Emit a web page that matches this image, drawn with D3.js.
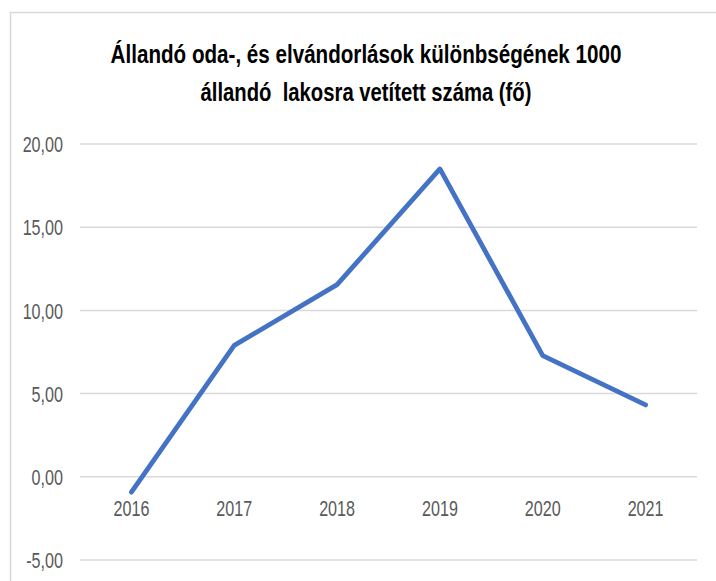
<!DOCTYPE html>
<html>
<head>
<meta charset="utf-8">
<script src="https://cdn.jsdelivr.net/npm/d3@7"></script>
<style>
  html, body { margin: 0; padding: 0; background: #fff; }
  svg { display: block; }
</style>
</head>
<body>
<svg id="chart" width="716" height="581"></svg>
<script>
const titleLines = ["Állandó oda-, és elvándorlások különbségének 1000", "állandó  lakosra vetített száma (fő)"];
const categories = ["2016", "2017", "2018", "2019", "2020", "2021"];
const values = [-0.92, 7.9, 11.55, 18.5, 7.28, 4.32];
const yTicks = [-5, 0, 5, 10, 15, 20];
const yTickLabels = ["-5,00", "0,00", "5,00", "10,00", "15,00", "20,00"];

const svg = d3.select("#chart");
const W = 716, H = 581;
const plot = { left: 80, right: 697, top: 144, bottom: 560 };

svg.append("rect").attr("x", 0).attr("y", 0).attr("width", W).attr("height", H).attr("fill", "#fff");
// chart area border (extends past the right and bottom edges)
svg.append("rect")
  .attr("x", 10.5).attr("y", 12.5).attr("width", 900).attr("height", 900)
  .attr("fill", "none").attr("stroke", "#d9d9d9").attr("stroke-width", 1.5);

const x = d3.scaleBand().domain(categories).range([plot.left, plot.right]).paddingInner(0).paddingOuter(0);
const y = d3.scaleLinear().domain([-5, 20]).range([plot.bottom, plot.top]);

function compress(sel, ratio) {
  sel.each(function () {
    const n = this.getComputedTextLength();
    d3.select(this).attr("textLength", n * ratio).attr("lengthAdjust", "spacingAndGlyphs");
  });
}

// gridlines
svg.append("g").selectAll("line").data(yTicks).join("line")
  .attr("x1", plot.left).attr("x2", plot.right)
  .attr("y1", d => y(d)).attr("y2", d => y(d))
  .attr("stroke", "#d9d9d9").attr("stroke-width", 1.5);

// y axis labels
const yAxis = svg.append("g")
  .attr("transform", `translate(${plot.left},0)`)
  .call(d3.axisLeft(y).tickValues(yTicks).tickSize(0).tickPadding(17)
    .tickFormat(d => yTickLabels[yTicks.indexOf(d)]));
yAxis.select(".domain").remove();
yAxis.selectAll("text")
  .attr("font-family", "Liberation Sans, Arial, sans-serif")
  .attr("font-size", 21.5).attr("fill", "#595959").attr("dy", "0.36em");
compress(yAxis.selectAll("text"), 0.75);

// x axis labels (placed below the y = 0 line)
const xAxis = svg.append("g")
  .attr("transform", `translate(0,${y(0)})`)
  .call(d3.axisBottom(x).tickSize(0).tickPadding(39));
xAxis.select(".domain").remove();
xAxis.selectAll("text")
  .attr("font-family", "Liberation Sans, Arial, sans-serif")
  .attr("font-size", 21.5).attr("fill", "#595959").attr("dy", "0");
compress(xAxis.selectAll("text"), 0.75);

// line
const line = d3.line()
  .x((d, i) => x(categories[i]) + x.bandwidth() / 2)
  .y(d => y(d));
svg.append("path").datum(values)
  .attr("d", line)
  .attr("fill", "none").attr("stroke", "#4472C4").attr("stroke-width", 4.8)
  .attr("stroke-linejoin", "round").attr("stroke-linecap", "round");

// title (horizontally condensed with a transform so its box stays true)
const titleCfg = [{ y: 63, w: 511 }, { y: 101, w: 331 }];
titleLines.forEach((t, i) => {
  const g = svg.append("g");
  const txt = g.append("text")
    .attr("x", 0).attr("y", 0)
    .attr("text-anchor", "middle")
    .attr("font-family", "Liberation Sans, Arial, sans-serif")
    .attr("font-weight", "bold").attr("font-size", 26).attr("fill", "#000")
    .style("white-space", "pre")
    .text(t);
  const n = txt.node().getComputedTextLength();
  g.attr("transform", `translate(366,${titleCfg[i].y}) scale(${titleCfg[i].w / n},1)`);
});
</script>
</body>
</html>
